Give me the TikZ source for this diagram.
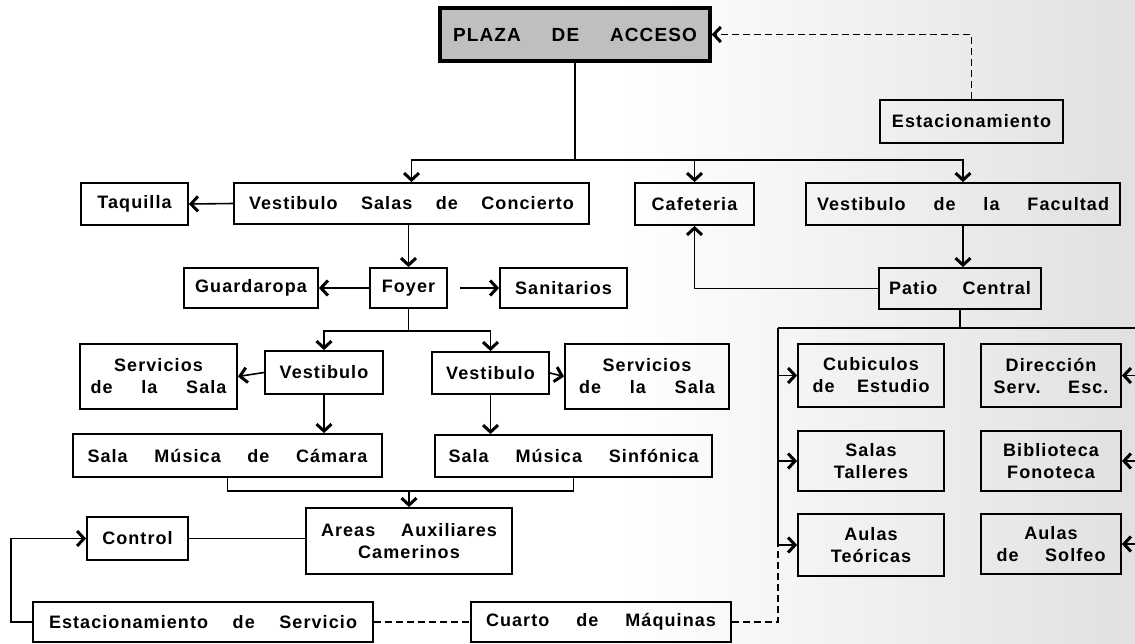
\documentclass[tikz,border=0pt]{standalone}
\usepackage{fontspec}
\usetikzlibrary{arrows.meta}
\newfontfamily\letra[LetterSpace=6]{Liberation Sans}
\newcommand{\renglon}[1]{\hbox to \linewidth{#1}}
\tikzset{
	caja/.style={draw, line width=1.8pt, inner sep=0pt, align=center,
		font=\letra\bfseries\fontsize{18}{22}\selectfont},
	linea/.style={line width=1.6pt},
	flecha/.style={linea, -{Straight Barb[length=7pt,width=15pt,line width=3pt]}},
	trazos/.style={linea, dash pattern=on 7pt off 4pt},
}

\begin{document}
\begin{tikzpicture}[x=1pt,y=-1pt]
			%%%%% START %%%%%
			
			\useasboundingbox (0,0) rectangle (1135,643);
			\shade[left color=white, right color=black!12] (620,0) rectangle (1135,643);
			
			% cajas
			\node[caja, minimum width=270pt, minimum height=53pt, line width=3.5pt, fill=black!25, text width=244pt,
				font=\letra\bfseries\fontsize{19}{20}\selectfont] (plaza) at (575,34.5) {\renglon{PLAZA\hfill DE\hfill ACCESO}};
			\node[caja, minimum width=183pt, minimum height=43pt] (estac) at (971.5,121.5) {Estacionamiento};
			
			\node[caja, minimum width=107pt, minimum height=42pt] (taquilla) at (134.5,204) {Taquilla};
			\node[caja, minimum width=355pt, minimum height=41pt, text width=325pt] (vsalas) at (411.5,203.5) {\renglon{Vestibulo\hfill Salas\hfill de\hfill Concierto}};
			\node[caja, minimum width=119pt, minimum height=42pt] (cafe) at (694.5,204) {Cafeteria};
			\node[caja, minimum width=314pt, minimum height=42pt, text width=292pt] (vfac) at (963,204) {\renglon{Vestibulo\hfill de\hfill la\hfill Facultad}};
			
			\node[caja, minimum width=134pt, minimum height=40pt] (guarda) at (251,288) {Guardaropa};
			\node[caja, minimum width=77pt, minimum height=40pt] (foyer) at (408.5,288) {Foyer};
			\node[caja, minimum width=127pt, minimum height=40pt] (sanit) at (563.5,288) {Sanitarios};
			\node[caja, minimum width=162pt, minimum height=41pt, text width=142pt] (patio) at (960,288.5) {\renglon{Patio\hfill Central}};
			
			\node[caja, minimum width=157pt, minimum height=65pt, text width=136pt] (servizq) at (158.5,376.5) {Servicios\\\renglon{de\hfill la\hfill Sala}};
			\node[caja, minimum width=118pt, minimum height=43pt] (vestizq) at (324,372.5) {Vestibulo};
			\node[caja, minimum width=117pt, minimum height=42pt] (vestder) at (490.5,373) {Vestibulo};
			\node[caja, minimum width=164pt, minimum height=65pt, text width=136pt] (servder) at (647,376.5) {Servicios\\\renglon{de\hfill la\hfill Sala}};
			
			\node[caja, minimum width=309pt, minimum height=43pt, text width=280pt] (camara) at (227.5,455.5) {\renglon{Sala\hfill Música\hfill de\hfill Cámara}};
			\node[caja, minimum width=277pt, minimum height=42pt, text width=250pt] (sinfonica) at (573.5,456) {\renglon{Sala\hfill Música\hfill Sinfónica}};
			
			\node[caja, minimum width=206pt, minimum height=66pt, text width=176pt] (areas) at (409,541) {\renglon{Areas\hfill Auxiliares}\\Camerinos};
			\node[caja, minimum width=101pt, minimum height=43pt] (control) at (137.5,538.5) {Control};
			
			\node[caja, minimum width=340pt, minimum height=40pt, text width=308pt] (estserv) at (203,622) {\renglon{Estacionamiento\hfill de\hfill Servicio}};
			\node[caja, minimum width=260pt, minimum height=40pt, text width=230pt] (cuarto) at (601,622) {\renglon{Cuarto\hfill de\hfill Máquinas}};
			
			\node[caja, minimum width=146pt, minimum height=63pt, text width=117pt] (cubic) at (871,375.5) {Cubiculos\\\renglon{de\hfill Estudio}};
			\node[caja, minimum width=146pt, minimum height=60pt] (talleres) at (871,461) {Salas\\Talleres};
			\node[caja, minimum width=146pt, minimum height=62pt] (teoricas) at (871,545) {Aulas\\Teóricas};
			\node[caja, minimum width=140pt, minimum height=63pt, text width=115pt] (direc) at (1051,375.5) {Dirección\\\renglon{Serv.\hfill Esc.}};
			\node[caja, minimum width=140pt, minimum height=60pt] (biblio) at (1051,461) {Biblioteca\\Fonoteca};
			\node[caja, minimum width=140pt, minimum height=60pt, text width=109pt] (solfeo) at (1051,544) {Aulas\\\renglon{de\hfill Solfeo}};
			
			% conexiones
			\coordinate (t1) at (575,160);
			\draw[linea] (plaza.south) -- (t1);
			\draw[flecha] (t1) -| (vsalas.north);
			\draw[flecha] (t1) -| (cafe.north);
			\draw[flecha] (t1) -| (vfac.north);
			\draw[trazos, flecha] (estac.north) |- (plaza.east);
			
			\draw[flecha] (vsalas.west) -- (taquilla.east);
			\draw[flecha] (vsalas.south -| foyer.north) -- (foyer.north);
			\draw[flecha] (foyer.west) -- (guarda.east);
			\draw[flecha, shorten <=12pt] (foyer.east) -- (sanit.west);
			\draw[flecha] (vfac.south) -- (vfac.south |- patio.north);
			\draw[flecha] (patio.west) -| (cafe.south);
			
			\coordinate (t2) at (408.5,331);
			\draw[linea] (foyer.south) -- (t2);
			\draw[flecha] (t2) -| (vestizq.north);
			\draw[flecha] (t2) -| (vestder.north);
			\draw[flecha] (vestizq.west) -- (servizq.east);
			\draw[flecha] (vestder.east) -- (servder.west);
			\draw[flecha] (vestizq.south) -- (vestizq.south |- camara.north);
			\draw[flecha] (vestder.south) -- (vestder.south |- sinfonica.north);
			
			\coordinate (t3) at (409,491);
			\draw[linea] (camara.south) |- (t3) -| (sinfonica.south);
			\draw[flecha] (t3) -- (areas.north);
			\draw[linea] (control.east) -- (control.east -| areas.west);
			\draw[flecha] (estserv.west) -- ++(-21,0) |- (control.west);
			\draw[trazos] (estserv.east) -- (cuarto.west);
			
			\coordinate (t4) at (960,328);
			\coordinate (izq) at (778,328);
			\coordinate (der) at (1140,328);
			\draw[linea] (patio.south) -- (t4);
			\draw[linea] (izq) -- (der);
			\draw[linea] (izq) -- (izq |- teoricas.west);
			\draw[trazos] (cuarto.east) -| (izq |- teoricas.west);
			\foreach \n in {cubic,talleres,teoricas}
				\draw[flecha] (izq |- \n.west) -- (\n.west);
			\draw[linea] (der) -- (der |- solfeo.east);
			\foreach \n in {direc,biblio,solfeo}
				\draw[flecha] (der |- \n.east) -- (\n.east);
			
			%%%%% END %%%%%
\end{tikzpicture}
\end{document}
